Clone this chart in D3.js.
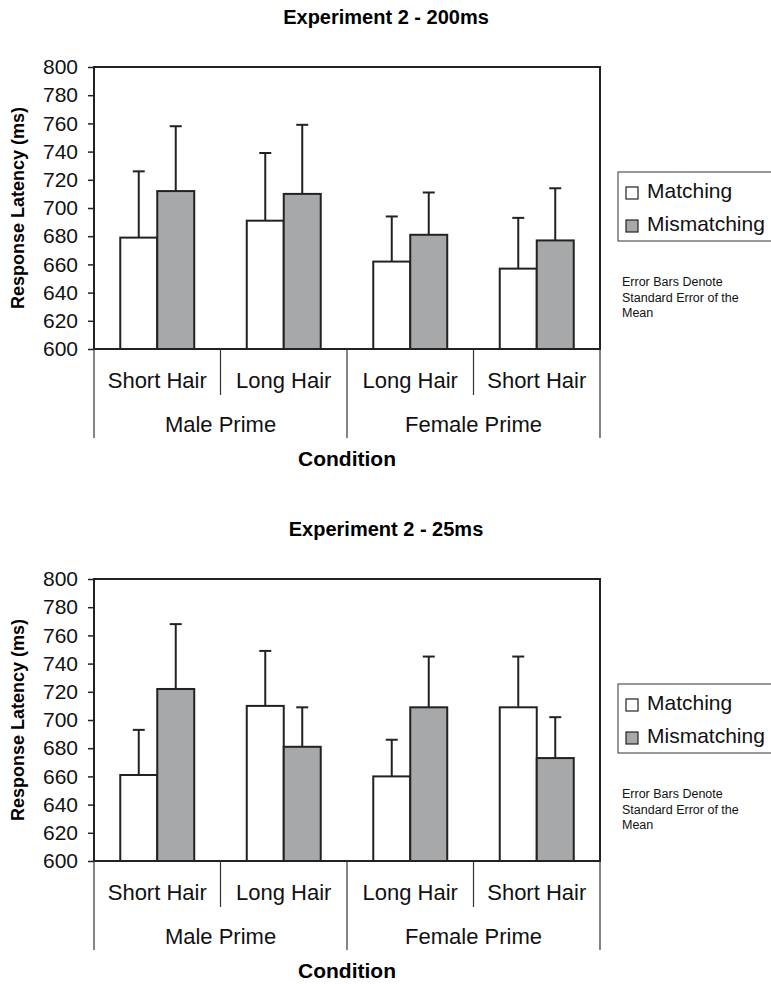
<!DOCTYPE html>
<html>
<head>
<meta charset="utf-8">
<script src="https://cdn.jsdelivr.net/npm/d3@7"></script>
<style>
  body { margin: 0; background: #fff; }
  svg { display: block; font-family: "Liberation Sans", Arial, Helvetica, sans-serif; }
</style>
</head>
<body>
<div id="chart"></div>
<script>
// categories (inner level) and groups (outer level)
const categories = ['Short Hair', 'Long Hair', 'Long Hair', 'Short Hair'];
const groups = ['Male Prime', 'Female Prime'];
const series = ['Matching', 'Mismatching'];
const yTicks = [600, 620, 640, 660, 680, 700, 720, 740, 760, 780, 800];

// Experiment 2 - 200ms
const exp200Matching = [679, 691, 662, 657];
const exp200Mismatching = [712, 710, 681, 677];
const exp200MatchingErr = [47, 48, 32, 36];
const exp200MismatchingErr = [46, 49, 30, 37];

// Experiment 2 - 25ms
const exp25Matching = [661, 710, 660, 709];
const exp25Mismatching = [722, 681, 709, 673];
const exp25MatchingErr = [32, 39, 26, 36];
const exp25MismatchingErr = [46, 28, 36, 29];

const W = 771, H = 984;
const fills = { Matching: '#ffffff', Mismatching: '#a7a8aa' };
const ink = '#222';

const svg = d3.select('#chart').append('svg')
  .attr('width', W)
  .attr('height', H);

function drawChart (top, title, matching, mismatching, matchErr, mismatchErr) {
  const left = 94, right = 600;
  const plotTop = top + 67, plotBottom = top + 349;

  const g = svg.append('g');

  const x = d3.scaleBand()
    .domain(d3.range(categories.length))
    .range([left, right])
    .padding(0);

  const xs = d3.scaleBand()
    .domain(series)
    .range([0, x.bandwidth()])
    .paddingInner(0)
    .paddingOuter(0.71);

  const y = d3.scaleLinear()
    .domain([600, 800])
    .range([plotBottom, plotTop]);

  // title
  g.append('text')
    .attr('x', 386)
    .attr('y', top + 24)
    .attr('text-anchor', 'middle')
    .style('font-size', '20px')
    .style('font-weight', 'bold')
    .text(title);

  // y axis
  const yAxis = g.append('g')
    .attr('transform', `translate(${left},0)`)
    .call(d3.axisLeft(y).tickValues(yTicks).tickSize(6).tickPadding(10));
  yAxis.select('.domain').remove();
  yAxis.selectAll('line').attr('stroke', ink).attr('stroke-width', 1.5);
  yAxis.selectAll('text')
    .style('font-size', '21px')
    .style('font-family', '"Liberation Sans", Arial, sans-serif')
    .attr('fill', '#111');

  g.append('text')
    .attr('transform', `translate(24,${(plotTop + plotBottom) / 2}) rotate(-90)`)
    .attr('text-anchor', 'middle')
    .style('font-size', '18px')
    .style('font-weight', 'bold')
    .text('Response Latency (ms)');

  // bars
  const rows = categories.map((c, i) => ({
    i: i,
    values: [
      { s: 'Matching', v: matching[i], e: matchErr[i] },
      { s: 'Mismatching', v: mismatching[i], e: mismatchErr[i] }
    ]
  }));

  const cat = g.selectAll('g.cat')
    .data(rows)
    .enter().append('g')
    .attr('class', 'cat')
    .attr('transform', d => `translate(${x(d.i)},0)`);

  const bar = cat.selectAll('g.bar')
    .data(d => d.values)
    .enter().append('g')
    .attr('class', 'bar');

  // error bars (upper only), drawn behind the bar fill
  bar.append('line')
    .attr('x1', d => xs(d.s) + xs.bandwidth() / 2)
    .attr('x2', d => xs(d.s) + xs.bandwidth() / 2)
    .attr('y1', d => y(d.v))
    .attr('y2', d => y(d.v + d.e))
    .attr('stroke', ink)
    .attr('stroke-width', 2);

  bar.append('line')
    .attr('x1', d => xs(d.s) + xs.bandwidth() / 2 - 6)
    .attr('x2', d => xs(d.s) + xs.bandwidth() / 2 + 6)
    .attr('y1', d => y(d.v + d.e))
    .attr('y2', d => y(d.v + d.e))
    .attr('stroke', ink)
    .attr('stroke-width', 2);

  bar.append('rect')
    .attr('x', d => xs(d.s))
    .attr('y', d => y(d.v))
    .attr('width', xs.bandwidth())
    .attr('height', d => plotBottom - y(d.v))
    .attr('fill', d => fills[d.s])
    .attr('stroke', ink)
    .attr('stroke-width', 2);

  // plot frame
  g.append('rect')
    .attr('x', left)
    .attr('y', plotTop)
    .attr('width', right - left)
    .attr('height', plotBottom - plotTop)
    .attr('fill', 'none')
    .attr('stroke', ink)
    .attr('stroke-width', 2);

  // category axis (two levels)
  const innerBottom = plotBottom + 46;
  const outerBottom = plotBottom + 89;
  const dividers = d3.range(categories.length + 1).map(i => i < categories.length ? x(i) : right);

  g.selectAll('line.div')
    .data(dividers)
    .enter().append('line')
    .attr('class', 'div')
    .attr('x1', d => d)
    .attr('x2', d => d)
    .attr('y1', plotBottom)
    .attr('y2', (d, i) => (i % 2 === 0 ? outerBottom : innerBottom))
    .attr('stroke', '#333')
    .attr('stroke-width', 1.2);

  g.selectAll('text.cat')
    .data(categories)
    .enter().append('text')
    .attr('class', 'cat')
    .attr('x', (d, i) => x(i) + x.bandwidth() / 2)
    .attr('y', plotBottom + 39)
    .attr('text-anchor', 'middle')
    .style('font-size', '22px')
    .attr('fill', '#111')
    .text(d => d);

  g.selectAll('text.grp')
    .data(groups)
    .enter().append('text')
    .attr('class', 'grp')
    .attr('x', (d, i) => x(i * 2) + x.bandwidth())
    .attr('y', plotBottom + 83)
    .attr('text-anchor', 'middle')
    .style('font-size', '22px')
    .attr('fill', '#111')
    .text(d => d);

  g.append('text')
    .attr('x', (left + right) / 2)
    .attr('y', plotBottom + 117)
    .attr('text-anchor', 'middle')
    .style('font-size', '21px')
    .style('font-weight', 'bold')
    .text('Condition');

  // legend
  const lg = g.append('g').attr('transform', `translate(618,${top + 172})`);
  lg.append('rect')
    .attr('width', 170)
    .attr('height', 69)
    .attr('fill', '#fff')
    .attr('stroke', '#555')
    .attr('stroke-width', 1.2);

  const item = lg.selectAll('g.item')
    .data(series)
    .enter().append('g')
    .attr('class', 'item')
    .attr('transform', (d, i) => `translate(8,${15 + i * 33})`);

  item.append('rect')
    .attr('width', 12)
    .attr('height', 12)
    .attr('fill', d => fills[d])
    .attr('stroke', ink)
    .attr('stroke-width', 1.2);

  item.append('text')
    .attr('x', 21)
    .attr('y', 11)
    .style('font-size', '21px')
    .attr('fill', '#111')
    .text(d => d);

  const note = g.append('text')
    .attr('x', 622)
    .attr('y', top + 286)
    .style('font-size', '12.5px')
    .attr('fill', '#111');
  ['Error Bars Denote', 'Standard Error of the', 'Mean'].forEach((t, i) => {
    note.append('tspan').attr('x', 622).attr('dy', i === 0 ? 0 : 15.5).text(t);
  });
}

drawChart(0, 'Experiment 2 - 200ms',
  exp200Matching, exp200Mismatching, exp200MatchingErr, exp200MismatchingErr);
drawChart(512, 'Experiment 2 - 25ms',
  exp25Matching, exp25Mismatching, exp25MatchingErr, exp25MismatchingErr);
</script>
</body>
</html>
